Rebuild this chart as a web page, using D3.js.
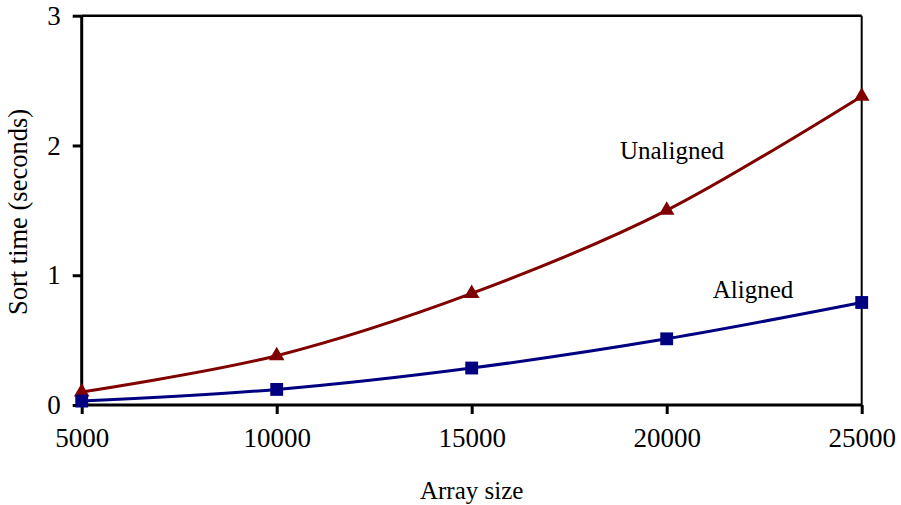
<!DOCTYPE html>
<html><head><meta charset="utf-8">
<script src="https://cdn.jsdelivr.net/npm/d3@7/dist/d3.min.js"></script>
<style>body{margin:0;background:#fff}svg{display:block}</style>
</head><body><svg id="c" width="901" height="505"></svg>
<script>
const sizes = [5000, 10000, 15000, 20000, 25000];
const unaligned = [0.10, 0.38, 0.86, 1.50, 2.38];
const aligned = [0.03, 0.12, 0.285, 0.51, 0.79];
const xTicks = [5000, 10000, 15000, 20000, 25000];
const yTicks = [0, 1, 2, 3];

const FONT = '"Liberation Serif"';
const svg = d3.select("#c");
const L = 81.7, R = 861.7, T = 15.7, B = 405;
const x = d3.scaleLinear().domain([5000, 25000]).range([L, R]);
const y = d3.scaleLinear().domain([0, 3]).range([B, T]);

// frame top/right
svg.append("line").attr("x1", L).attr("x2", R).attr("y1", T).attr("y2", T).attr("stroke", "#000").attr("stroke-width", 2.5);
svg.append("line").attr("x1", R).attr("x2", R).attr("y1", T).attr("y2", B).attr("stroke", "#000").attr("stroke-width", 2);

const tfs = 27, fs = 25;
const xa = svg.append("g").attr("transform", `translate(0,${B})`)
  .call(d3.axisBottom(x).tickValues(xTicks).tickFormat(d3.format("d")).tickSize(9).tickSizeOuter(0).tickPadding(14));
const ya = svg.append("g").attr("transform", `translate(${L},0)`)
  .call(d3.axisLeft(y).tickValues(yTicks).tickFormat(d3.format("d")).tickSize(9).tickSizeOuter(0).tickPadding(12));
[xa, ya].forEach(a => {
  a.attr("font-family", null).attr("font-size", null);
  a.select(".domain").attr("stroke", "#000").attr("stroke-width", 3);
  a.selectAll(".tick line").attr("stroke", "#000").attr("stroke-width", 3);
  a.selectAll(".tick text").style("font-family", FONT).attr("font-size", tfs).attr("fill", "#000");
});
xa.select(".domain").attr("d", `M${L},0H${R}`);
ya.select(".domain").attr("d", `M0,${B}V${T}`);

const line = d3.line().x((d, i) => x(sizes[i])).y(d => y(d)).curve(d3.curveCatmullRom.alpha(0));
const series = [
  {vals: unaligned, color: "#800000", shape: d3.symbolTriangle, size: 105},
  {vals: aligned, color: "#000080", shape: d3.symbolSquare, size: 165}
];
series.forEach(s => {
  svg.append("path").attr("d", line(s.vals)).attr("fill", "none").attr("stroke", s.color).attr("stroke-width", 3);
  svg.selectAll(null).data(s.vals).enter().append("path")
    .attr("d", d3.symbol().type(s.shape).size(s.size))
    .attr("transform", (d, i) => `translate(${x(sizes[i])},${y(d)})`)
    .attr("fill", s.color);
});

function label(xp, yp, t, rot, size) {
  const el = svg.append("text").attr("text-anchor", "middle")
    .style("font-family", FONT).attr("font-size", size || fs).attr("fill", "#000").text(t);
  if (rot) el.attr("transform", `translate(${xp},${yp}) rotate(-90)`);
  else el.attr("x", xp).attr("y", yp);
}
label(672, 159, "Unaligned");
label(753, 298, "Aligned");
label((L + R) / 2, 499, "Array size");
label(27, 212, "Sort time (seconds)", true, 26.5);
</script></body></html>
